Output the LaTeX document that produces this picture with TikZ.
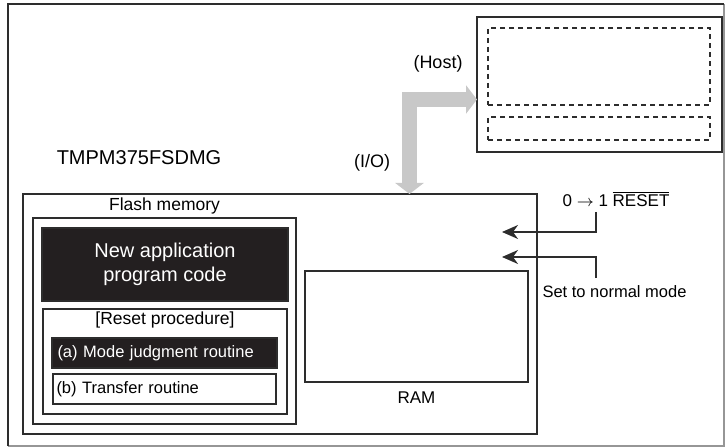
\documentclass[tikz,border=0pt]{standalone}
\usepackage{fontspec}
\setmainfont{Liberation Sans}
\usepackage{tikz}
\usetikzlibrary{arrows.meta,positioning}
\definecolor{BoxBlack}{RGB}{35,31,32}
\definecolor{LineDark}{RGB}{45,45,45}
\definecolor{IOGray}{RGB}{200,200,200}
\definecolor{FrameGray}{RGB}{150,150,150}

\begin{document}
\begin{tikzpicture}[x=0.5pt, y=-0.5pt,
    box/.style={draw=LineDark, line width=0.65pt, inner sep=0pt},
    blk/.style={box, fill=BoxBlack, text=white},
    dbox/.style={draw=LineDark, line width=0.75pt, dash pattern=on 2.5pt off 2pt, inner sep=0pt},
    lbl/.style={inner sep=0pt, font=\fontsize{8.5}{10}\selectfont},
    big/.style={font=\fontsize{10}{12}\selectfont},
    sig/.style={draw=LineDark, line width=0.75pt, -{Stealth[length=8pt, width=7pt, inset=2.5pt]}},
    ioarrow/.style={draw=IOGray, line width=7.5pt, line join=miter,
      {Triangle[length=5.5pt, width=14pt]}-{Triangle[length=5.5pt, width=14pt]}}
  ]
  \useasboundingbox (0,0) rectangle (726,448);
  % outer frame
  \draw[FrameGray, line width=0.8pt] (724,4) -- (724,446) -- (8,446);
  \draw[LineDark, line width=1pt] (8,446) -- (8,4) -- (724,4);

  % host side
  \node[box, minimum width=122.5pt, minimum height=67.5pt] (host) at (599.5,84.5) {};
  \node[dbox, minimum width=111pt, minimum height=38.5pt] (hostup) at (599,66.5) {};
  \node[dbox, minimum width=111pt, minimum height=11.5pt] (hostdn) at (599,128.5) {};
  \node[lbl, font=\fontsize{9}{11}\selectfont] (hostlbl) at (438,64) {(Host)};

  % device
  \node[box, minimum width=257pt, minimum height=120pt] (chip) at (280,314) {};
  \node[lbl, big] (chipname) at (139,158) {TMPM375FSDMG};
  \node[lbl, font=\fontsize{9}{11}\selectfont] (iolbl) at (372,163) {(I/O)};

  \node[box, minimum width=131.5pt, minimum height=103pt] (flash) at (164.5,321) {};
  \node[lbl, font=\fontsize{8.75}{10}\selectfont, above=1.5pt of flash] (flashlbl) {Flash memory};
  \node[blk, big, minimum width=123pt, minimum height=36.5pt, align=center] (newapp) at (165,264.5)
    {New application\\program code};
  \node[box, minimum width=122pt, minimum height=52.5pt] (reset) at (165,361.5) {};
  \node[lbl, font=\fontsize{8.75}{10}\selectfont, below=1.5pt of reset.north] (resetlbl) {[Reset procedure]};
  \node[blk, font=\fontsize{8.25}{10}\selectfont, minimum width=112.5pt, minimum height=15pt,
    text width=107pt, inner xsep=2.75pt, align=left] (modea) at (164.5,353) {(a) Mode judgment routine};
  \node[box, font=\fontsize{8.25}{10}\selectfont, minimum width=111.5pt, minimum height=15pt,
    text width=108pt, inner xsep=1.75pt, align=left] (modeb) at (164.5,389) {(b) Transfer routine};

  \node[box, minimum width=111.5pt, minimum height=55.5pt] (ram) at (416.5,326.5) {};
  \node[lbl, below=4.5pt of ram] (ramlbl) {RAM};

  % I/O path to host
  \coordinate (iodev) at (409.5,194);
  \coordinate (iohost) at (477,99.5);
  \draw[ioarrow] (iodev) |- (iohost);

  % signals
  \node[lbl] (rstlbl) at (616,199) {0 $\rightarrow$ 1 $\overline{\mbox{RESET}}$};
  \node[lbl, font=\fontsize{8.25}{10}\selectfont] (setlbl) at (614.5,292) {Set to normal mode};
  \coordinate (rsttop) at (596,212);
  \coordinate (settop) at (596,278);
  \coordinate (rstin) at (502,232);
  \coordinate (setin) at (502,257);
  \draw[sig] (rsttop) |- (rstin);
  \draw[sig] (settop) |- (setin);
\end{tikzpicture}
\end{document}
